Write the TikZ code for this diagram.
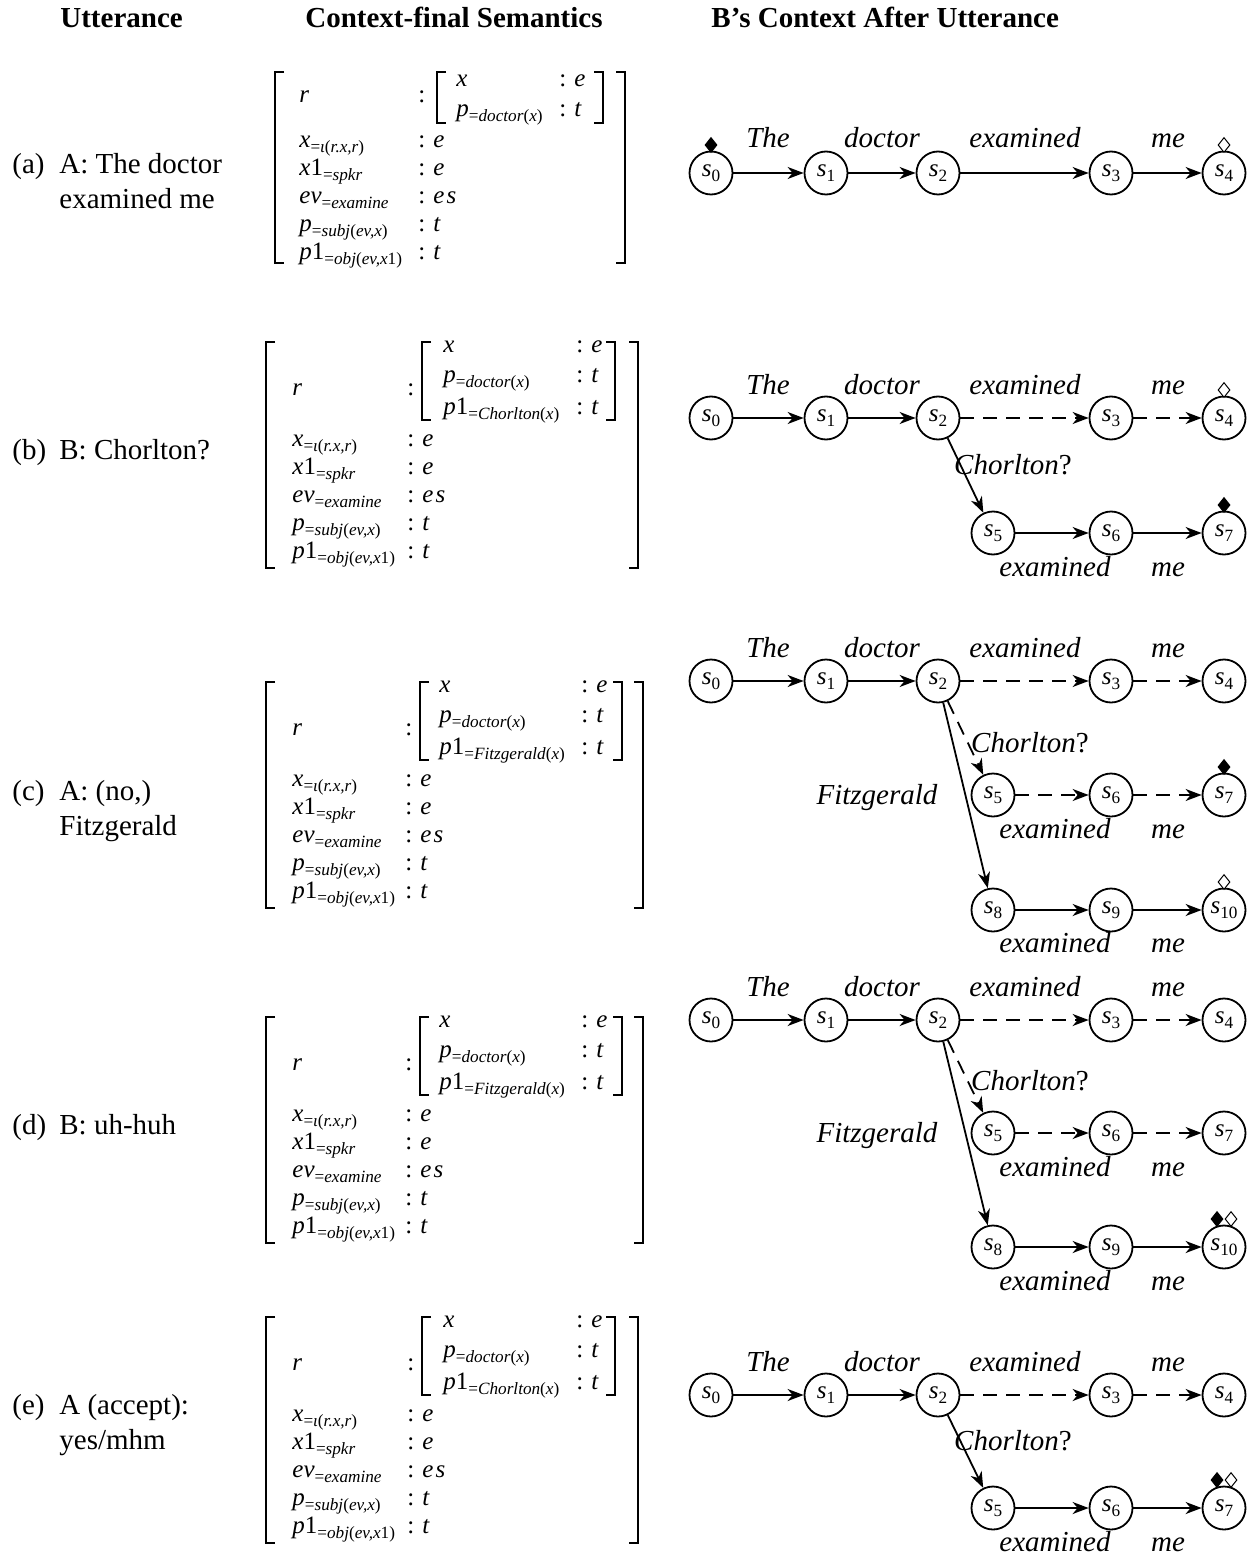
\documentclass[tikz,border=0pt]{standalone}
\usepackage{fontspec}
\setmainfont{Liberation Serif}
\usetikzlibrary{arrows.meta,shapes.geometric}

\newcommand\mi[1]{\textit{#1}}
\newcommand\lw[1]{\raisebox{-2.5pt}{\fontsize{8.6}{9}\selectfont #1}}

\tikzset{
  avt/.style={anchor=base west, inner sep=0pt, font=\fontsize{12.5}{15}\selectfont},
  hdr/.style={anchor=base west, inner sep=0pt, font=\fontsize{14.5}{17}\selectfont\bfseries},
  utt/.style={anchor=base west, inner sep=0pt, font=\fontsize{14.5}{17}\selectfont},
  wd/.style={anchor=base, inner sep=0pt, font=\fontsize{14.5}{17}\selectfont\itshape},
  st/.style={circle, draw, line width=0.9pt, minimum size=21.5pt, inner sep=0pt, font=\fontsize{12.5}{15}\selectfont},
  arr/.style={-{Stealth[length=8pt,width=6pt,inset=2.5pt]}, line width=0.9pt},
  darr/.style={arr, dash pattern=on 7pt off 4.5pt},
  brk/.style={line width=0.95pt},
  fdia/.style={diamond, draw, fill=black, line width=0.5pt, minimum width=6pt, minimum height=7.5pt, inner sep=0pt},
  odia/.style={fdia, fill=white},
}

% one row of an AVM: name, baseline y, label x, label, colon x, value
\newcommand\avmrow[6]{%
  \node[avt] (#1l) at ({#3},{#2}) {#4};
  \node[avt] (#1c) at ({#5},{#2}) {:};
  \node[avt] (#1v) at ({#5+15},{#2}) {#6};
}
% the five outer rows: prefix, first baseline, label x, colon x
\newcommand\avmout[4]{%
  \avmrow{#1a}{#2}{#3}{\mi{x}\lw{=\mi{ι}(\mi{r.x,r})}}{#4}{\mi{e}}
  \avmrow{#1b}{#2+28}{#3}{\mi{x}1\lw{=\mi{spkr}}}{#4}{\mi{e}}
  \avmrow{#1c}{#2+56}{#3}{\mi{ev}\lw{=\mi{examine}}}{#4}{\mi{e\kern1pt s}}
  \avmrow{#1d}{#2+84}{#3}{\mi{p}\lw{=\mi{subj}(\mi{ev,x})}}{#4}{\mi{t}}
  \avmrow{#1e}{#2+112}{#3}{\mi{p}1\lw{=\mi{obj}(\mi{ev,x}1)}}{#4}{\mi{t}}
}
% bracket pair: left x, right x, top, bottom
\newcommand\brackets[4]{%
  \draw[brk] ({#1+9},{#3}) -- ({#1},{#3}) -- ({#1},{#4}) -- ({#1+9},{#4});
  \draw[brk] ({#2-9},{#3}) -- ({#2},{#3}) -- ({#2},{#4}) -- ({#2-9},{#4});
}
% three-inner-row AVM: prefix, top, p1 subscript name (layout via \oL etc.)
\newcommand\avmthree[3]{%
  \brackets{\oL}{\oR}{#2}{#2+226}
  \brackets{\iL}{\iR}{#2}{#2+78}
  \node[avt] (#1r) at ({\lX},{#2+53}) {\mi{r}};
  \node[avt] (#1rc) at ({\oC},{#2+53}) {:};
  \avmrow{#1ia}{#2+10}{\iX}{\mi{x}}{\iC}{\mi{e}}
  \avmrow{#1ib}{#2+40}{\iX}{\mi{p}\lw{=\mi{doctor}(\mi{x})}}{\iC}{\mi{t}}
  \avmrow{#1ic}{#2+72}{\iX}{\mi{p}1\lw{=\mi{#3}(\mi{x})}}{\iC}{\mi{t}}
  \avmout{#1}{#2+104}{\lX}{\oC}
}

\begin{document}
\begin{tikzpicture}[x=0.5pt,y=-0.5pt]
\useasboundingbox (0,0) rectangle (1259,1556);

% headers
\node[hdr] (h1) at (60,28) {Utterance};
\node[hdr] (h2) at (305,28) {Context-final Semantics};
\node[hdr] (h3) at (711,28) {B’s Context After Utterance};

% utterances
\node[utt] (la) at (12,174) {(a)};
\node[utt] (ua1) at (59,174) {A: The doctor};
\node[utt] (ua2) at (59,209) {examined me};
\node[utt] (lb) at (12,459) {(b)};
\node[utt] (ub1) at (59,459) {B: Chorlton?};
\node[utt] (lc) at (12,800) {(c)};
\node[utt] (uc1) at (59,800) {A: (no,)};
\node[utt] (uc2) at (59,835) {Fitzgerald};
\node[utt] (ld) at (12,1134) {(d)};
\node[utt] (ud1) at (59,1134) {B: uh-huh};
\node[utt] (le) at (12,1414) {(e)};
\node[utt] (ue1) at (59,1414) {A (accept):};
\node[utt] (ue2) at (59,1449) {yes/mhm};

% ---------------- AVM (a)
\brackets{275}{625}{72}{263}
\brackets{437}{603}{72}{123}
\node[avt] (Ar) at (299,103) {\mi{r}};
\node[avt] (Arc) at (418,103) {:};
\avmrow{Aia}{87}{456}{\mi{x}}{559}{\mi{e}}
\avmrow{Aib}{117}{456}{\mi{p}\lw{=\mi{doctor}(\mi{x})}}{559}{\mi{t}}
\avmout{A}{148}{299}{418}

% ---------------- AVM (b)
\def\oL{266}\def\oR{638}\def\lX{292}\def\oC{407}
\def\iL{422}\def\iX{443}\def\iC{576}\def\iR{615}
\avmthree{B}{342}{Chorlton}
% ---------------- AVM (c)
\def\oL{266}\def\oR{643}\def\lX{292}\def\oC{405}
\def\iL{420}\def\iX{439}\def\iC{581}\def\iR{622}
\avmthree{C}{682}{Fitzgerald}
% ---------------- AVM (d)
\avmthree{D}{1017}{Fitzgerald}
% ---------------- AVM (e)
\def\oL{266}\def\oR{638}\def\lX{292}\def\oC{407}
\def\iL{422}\def\iX{443}\def\iC{576}\def\iR{615}
\avmthree{E}{1317}{Chorlton}

% ---------------- graph (a)
\node[st] (a0) at (711,173) {\mi{s}\lw{0}};
\node[st] (a1) at (826,173) {\mi{s}\lw{1}};
\node[st] (a2) at (938,173) {\mi{s}\lw{2}};
\node[st] (a3) at (1111,173) {\mi{s}\lw{3}};
\node[st] (a4) at (1224,173) {\mi{s}\lw{4}};
\draw[arr] (a0) -- (a1);
\draw[arr] (a1) -- (a2);
\draw[arr] (a2) -- (a3);
\draw[arr] (a3) -- (a4);
\node[wd] (aw1) at (768,148) {The};
\node[wd] (aw2) at (882,148) {doctor};
\node[wd] (aw3) at (1025,148) {examined};
\node[wd] (aw4) at (1168,148) {me};
\node[fdia] (ad1) at (711,145) {};
\node[odia] (ad2) at (1224,145) {};

% ---------------- graph (b)
\node[st] (b0) at (711,418) {\mi{s}\lw{0}};
\node[st] (b1) at (826,418) {\mi{s}\lw{1}};
\node[st] (b2) at (938,418) {\mi{s}\lw{2}};
\node[st] (b3) at (1111,418) {\mi{s}\lw{3}};
\node[st] (b4) at (1224,418) {\mi{s}\lw{4}};
\node[st] (b5) at (993,533) {\mi{s}\lw{5}};
\node[st] (b6) at (1111,533) {\mi{s}\lw{6}};
\node[st] (b7) at (1224,533) {\mi{s}\lw{7}};
\draw[arr] (b0) -- (b1);
\draw[arr] (b1) -- (b2);
\draw[darr] (b2) -- (b3);
\draw[darr] (b3) -- (b4);
\draw[arr] (b2) -- (b5);
\draw[arr] (b5) -- (b6);
\draw[arr] (b6) -- (b7);
\node[wd] (bw1) at (768,394) {The};
\node[wd] (bw2) at (882,394) {doctor};
\node[wd] (bw3) at (1025,394) {examined};
\node[wd] (bw4) at (1168,394) {me};
\node[wd] (bw5) at (1013,474) {\mi{Chorlton}\upshape ?};
\node[wd] (bw6) at (1055,576) {examined};
\node[wd] (bw7) at (1168,576) {me};
\node[odia] (bd1) at (1224,390) {};
\node[fdia] (bd2) at (1224,505) {};

% ---------------- graph (c)
\node[st] (c0) at (711,681) {\mi{s}\lw{0}};
\node[st] (c1) at (826,681) {\mi{s}\lw{1}};
\node[st] (c2) at (938,681) {\mi{s}\lw{2}};
\node[st] (c3) at (1111,681) {\mi{s}\lw{3}};
\node[st] (c4) at (1224,681) {\mi{s}\lw{4}};
\node[st] (c5) at (993,795) {\mi{s}\lw{5}};
\node[st] (c6) at (1111,795) {\mi{s}\lw{6}};
\node[st] (c7) at (1224,795) {\mi{s}\lw{7}};
\node[st] (c8) at (993,910) {\mi{s}\lw{8}};
\node[st] (c9) at (1111,910) {\mi{s}\lw{9}};
\node[st] (c10) at (1224,910) {\mi{s}\lw{10}};
\draw[arr] (c0) -- (c1);
\draw[arr] (c1) -- (c2);
\draw[darr] (c2) -- (c3);
\draw[darr] (c3) -- (c4);
\draw[darr] (c2) -- (c5);
\draw[darr] (c5) -- (c6);
\draw[darr] (c6) -- (c7);
\draw[arr] (c2) -- (c8);
\draw[arr] (c8) -- (c9);
\draw[arr] (c9) -- (c10);
\node[wd] (cw1) at (768,657) {The};
\node[wd] (cw2) at (882,657) {doctor};
\node[wd] (cw3) at (1025,657) {examined};
\node[wd] (cw4) at (1168,657) {me};
\node[wd] (cw5) at (1030,752) {\mi{Chorlton}\upshape ?};
\node[wd] (cw6) at (877,804) {Fitzgerald};
\node[wd] (cw7) at (1055,838) {examined};
\node[wd] (cw8) at (1168,838) {me};
\node[wd] (cw9) at (1055,952) {examined};
\node[wd] (cw10) at (1168,952) {me};
\node[fdia] (cd1) at (1224,767) {};
\node[odia] (cd2) at (1224,882) {};

% ---------------- graph (d)
\node[st] (d0) at (711,1020) {\mi{s}\lw{0}};
\node[st] (d1) at (826,1020) {\mi{s}\lw{1}};
\node[st] (d2) at (938,1020) {\mi{s}\lw{2}};
\node[st] (d3) at (1111,1020) {\mi{s}\lw{3}};
\node[st] (d4) at (1224,1020) {\mi{s}\lw{4}};
\node[st] (d5) at (993,1133) {\mi{s}\lw{5}};
\node[st] (d6) at (1111,1133) {\mi{s}\lw{6}};
\node[st] (d7) at (1224,1133) {\mi{s}\lw{7}};
\node[st] (d8) at (993,1247) {\mi{s}\lw{8}};
\node[st] (d9) at (1111,1247) {\mi{s}\lw{9}};
\node[st] (d10) at (1224,1247) {\mi{s}\lw{10}};
\draw[arr] (d0) -- (d1);
\draw[arr] (d1) -- (d2);
\draw[darr] (d2) -- (d3);
\draw[darr] (d3) -- (d4);
\draw[darr] (d2) -- (d5);
\draw[darr] (d5) -- (d6);
\draw[darr] (d6) -- (d7);
\draw[arr] (d2) -- (d8);
\draw[arr] (d8) -- (d9);
\draw[arr] (d9) -- (d10);
\node[wd] (dw1) at (768,996) {The};
\node[wd] (dw2) at (882,996) {doctor};
\node[wd] (dw3) at (1025,996) {examined};
\node[wd] (dw4) at (1168,996) {me};
\node[wd] (dw5) at (1030,1090) {\mi{Chorlton}\upshape ?};
\node[wd] (dw6) at (877,1142) {Fitzgerald};
\node[wd] (dw7) at (1055,1176) {examined};
\node[wd] (dw8) at (1168,1176) {me};
\node[wd] (dw9) at (1055,1290) {examined};
\node[wd] (dw10) at (1168,1290) {me};
\node[fdia] (dd1) at (1217,1219) {};
\node[odia] (dd2) at (1231,1219) {};

% ---------------- graph (e)
\node[st] (e0) at (711,1395) {\mi{s}\lw{0}};
\node[st] (e1) at (826,1395) {\mi{s}\lw{1}};
\node[st] (e2) at (938,1395) {\mi{s}\lw{2}};
\node[st] (e3) at (1111,1395) {\mi{s}\lw{3}};
\node[st] (e4) at (1224,1395) {\mi{s}\lw{4}};
\node[st] (e5) at (993,1508) {\mi{s}\lw{5}};
\node[st] (e6) at (1111,1508) {\mi{s}\lw{6}};
\node[st] (e7) at (1224,1508) {\mi{s}\lw{7}};
\draw[arr] (e0) -- (e1);
\draw[arr] (e1) -- (e2);
\draw[darr] (e2) -- (e3);
\draw[darr] (e3) -- (e4);
\draw[arr] (e2) -- (e5);
\draw[arr] (e5) -- (e6);
\draw[arr] (e6) -- (e7);
\node[wd] (ew1) at (768,1371) {The};
\node[wd] (ew2) at (882,1371) {doctor};
\node[wd] (ew3) at (1025,1371) {examined};
\node[wd] (ew4) at (1168,1371) {me};
\node[wd] (ew5) at (1013,1450) {\mi{Chorlton}\upshape ?};
\node[wd] (ew6) at (1055,1551) {examined};
\node[wd] (ew7) at (1168,1551) {me};
\node[fdia] (ed1) at (1217,1480) {};
\node[odia] (ed2) at (1231,1480) {};
\end{tikzpicture}
\end{document}
